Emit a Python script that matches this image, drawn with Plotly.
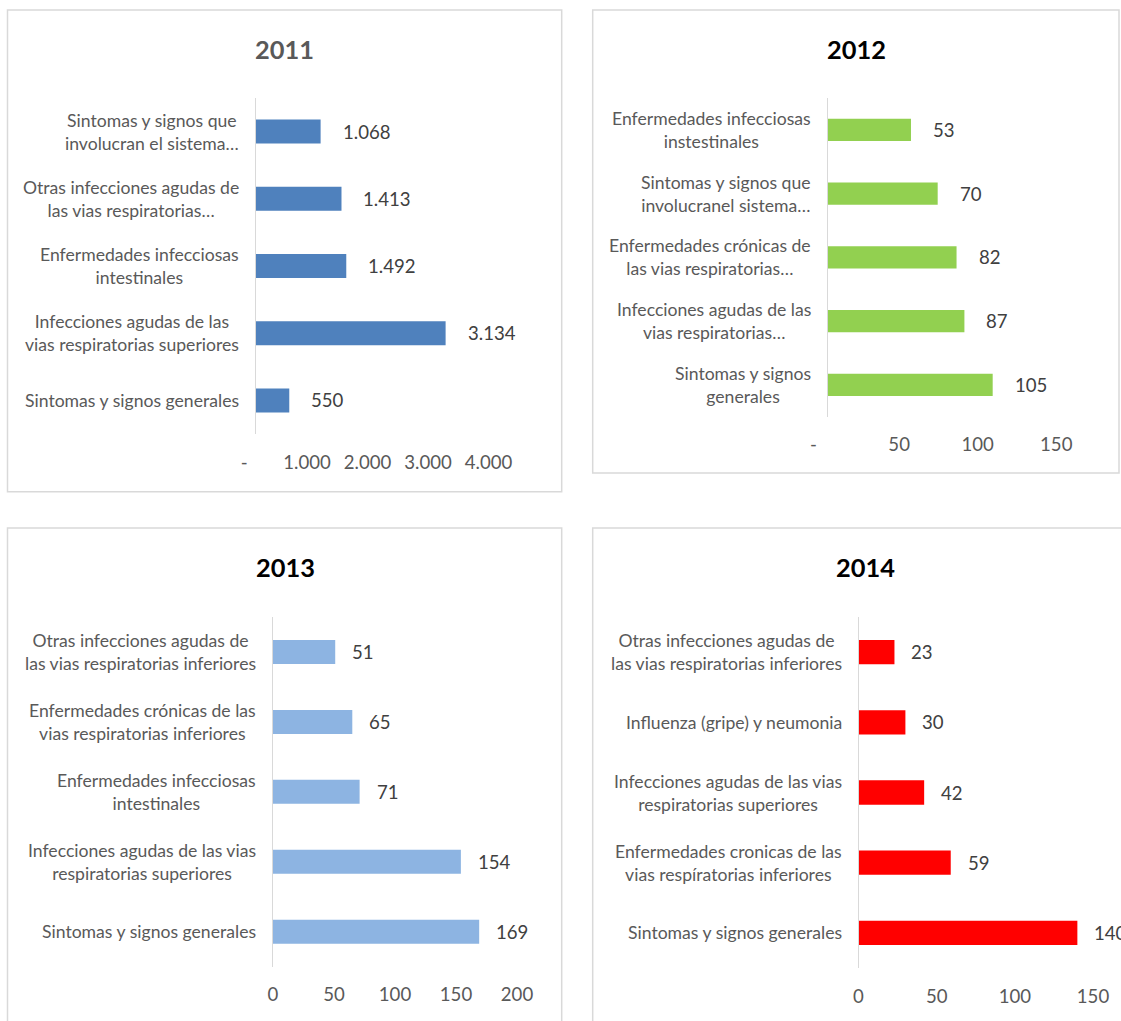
import plotly.graph_objects as go

# ---------------- data ----------------
years = ["2011", "2012", "2013", "2014"]

cat_2011 = [
    "Sintomas y signos que<br>involucran el sistema…",
    "Otras infecciones agudas de<br>las vias respiratorias…",
    "Enfermedades infecciosas<br>intestinales",
    "Infecciones agudas de las<br>vias respiratorias superiores",
    "Sintomas y signos generales",
]
val_2011 = [1068, 1413, 1492, 3134, 550]

cat_2012 = [
    "Enfermedades infecciosas<br>instestinales",
    "Sintomas y signos que<br>involucranel sistema…",
    "Enfermedades crónicas de<br>las vias respiratorias…",
    "Infecciones agudas de las<br>vias respiratorias…",
    "Sintomas y signos<br>generales",
]
val_2012 = [53, 70, 82, 87, 105]

cat_2013 = [
    "Otras infecciones agudas de<br>las vias respiratorias inferiores",
    "Enfermedades crónicas de las<br>vias respiratorias inferiores",
    "Enfermedades infecciosas<br>intestinales",
    "Infecciones agudas de las vias<br>respiratorias superiores",
    "Sintomas y signos generales",
]
val_2013 = [51, 65, 71, 154, 169]

cat_2014 = [
    "Otras infecciones agudas de<br>las vias respiratorias inferiores",
    "Influenza (gripe) y neumonia",
    "Infecciones agudas de las vias<br>respiratorias superiores",
    "Enfermedades cronicas de las<br>vias respíratorias inferiores",
    "Sintomas y signos generales",
]
val_2014 = [23, 30, 42, 59, 140]

ticks_2011 = [0, 1000, 2000, 3000, 4000]
ticktext_2011 = ["-", "1.000", "2.000", "3.000", "4.000"]
ticks_2012 = [0, 50, 100, 150]
ticktext_2012 = ["-", "50", "100", "150"]
ticks_2013 = [0, 50, 100, 150, 200]
ticktext_2013 = ["0", "50", "100", "150", "200"]
ticks_2014 = [0, 50, 100, 150]
ticktext_2014 = ["0", "50", "100", "150"]

# ---------------- style / layout ----------------
W, H = 1121, 1021
FONT = "Lato"
NB = "\u00a0"

def px(x):
    return x / W

def py(y):
    return 1 - y / H

def fmt_thousands(v):
    return f"{v:,}".replace(",", ".")

panels = [
    dict(year=years[0], cats=cat_2011, vals=val_2011, ticks=ticks_2011,
         ticktext=[ticktext_2011[0] + NB * 5] + [t + NB * 4 for t in ticktext_2011[1:]],
         rng=[0, 4000],
         color="#4F81BD", title_color="#595959",
         xdom=[256, 498], ydom=[98, 434], bw=0.357,
         box=[7.5, 10, 561.7, 491.7], tx=284.5, ty=49,
         fmt=fmt_thousands, vshift=20),
    dict(year=years[1], cats=cat_2012, vals=val_2012, ticks=ticks_2012,
         ticktext=[ticktext_2012[0] + NB * 6] + [t + NB * 3 for t in ticktext_2012[1:]],
         rng=[0, 150],
         color="#92D050", title_color="#000000",
         xdom=[827.7, 1063.4], ydom=[98, 416.7], bw=0.35,
         box=[592.7, 10, 1119, 473], tx=856, ty=49,
         fmt=str, vshift=20),
    dict(year=years[2], cats=cat_2013, vals=val_2013, ticks=ticks_2013,
         ticktext=ticktext_2013, rng=[0, 200],
         color="#8DB4E2", title_color="#000000",
         xdom=[273, 517], ydom=[617, 966.7], bw=0.343,
         box=[7.5, 528, 561.7, 1040], tx=285, ty=567,
         fmt=str, vshift=15),
    dict(year=years[3], cats=cat_2014, vals=val_2014, ticks=ticks_2014,
         ticktext=ticktext_2014, rng=[0, 150],
         color="#FF0000", title_color="#000000",
         xdom=[858.5, 1093], ydom=[617, 968], bw=0.346,
         box=[592.7, 528, 1145, 1040], tx=866, ty=567,
         fmt=str, vshift=15),
]

fig = go.Figure()
shapes = []
annotations = []
layout = {}

for i, p in enumerate(panels, start=1):
    xa = "x" if i == 1 else f"x{i}"
    ya = "y" if i == 1 else f"y{i}"
    xkey = "xaxis" if i == 1 else f"xaxis{i}"
    ykey = "yaxis" if i == 1 else f"yaxis{i}"

    fig.add_trace(go.Bar(
        x=p["vals"], y=p["cats"], orientation="h",
        width=p["bw"],
        marker=dict(color=p["color"], line=dict(width=0)),
        xaxis=xa, yaxis=ya, hoverinfo="x+y", showlegend=False,
    ))

    n = len(p["cats"])
    layout[xkey] = dict(
        domain=[px(p["xdom"][0]), px(p["xdom"][1])],
        range=p["rng"], anchor=ya, automargin=False,
        tickvals=p["ticks"], ticktext=p["ticktext"], tickangle=0,
        showgrid=False, zeroline=False, showline=False,
        ticks="", ticklabelstandoff=15,
        tickfont=dict(family=FONT, size=18.6, color="#595959"),
        fixedrange=True,
    )
    layout[ykey] = dict(
        domain=[py(p["ydom"][1]), py(p["ydom"][0])],
        type="category", categoryorder="array", categoryarray=p["cats"],
        range=[n - 0.5, -0.5], anchor=xa, automargin=False,
        showticklabels=False, showgrid=False, zeroline=False,
        showline=True, linecolor="#D9D9D9", linewidth=1.3,
        ticks="", fixedrange=True,
    )

    # panel border
    b = p["box"]
    shapes.append(dict(
        type="rect", xref="paper", yref="paper",
        x0=px(b[0]), x1=px(b[2]), y0=py(b[3]), y1=py(b[1]),
        line=dict(color="#D9D9D9", width=1.5), fillcolor="rgba(0,0,0,0)",
        layer="below",
    ))

    # title
    annotations.append(dict(
        text=f"<b>{p['year']}</b>", xref="paper", yref="paper",
        x=px(p["tx"]), y=py(p["ty"]), xanchor="center", yanchor="middle",
        showarrow=False,
        font=dict(family=FONT, size=25.4, color=p["title_color"]),
    ))

    # category labels (centered multi-line, right-aligned to axis)
    for c in p["cats"]:
        annotations.append(dict(
            text=c, xref=f"{xa} domain", yref=ya, x=0, y=c,
            xanchor="right", yanchor="middle", align="center",
            xshift=-15, showarrow=False,
            font=dict(family=FONT, size=17.6, color="#595959"),
        ))

    # value labels
    for c, v in zip(p["cats"], p["vals"]):
        annotations.append(dict(
            text=p["fmt"](v), xref=xa, yref=ya, x=v, y=c,
            xanchor="left", yanchor="middle",
            xshift=p["vshift"], showarrow=False,
            font=dict(family=FONT, size=18.6, color="#404040"),
        ))

fig.update_layout(
    width=W, height=H, autosize=False,
    margin=dict(l=0, r=0, t=0, b=0, pad=0, autoexpand=False),
    paper_bgcolor="white", plot_bgcolor="white",
    font=dict(family=FONT, color="#595959"),
    shapes=shapes, annotations=annotations,
    **layout,
)

fig.write_html(
    "out.html",
    config={"displayModeBar": False},
    post_script="document.body.style.margin='0';document.body.style.overflow='hidden';",
)
